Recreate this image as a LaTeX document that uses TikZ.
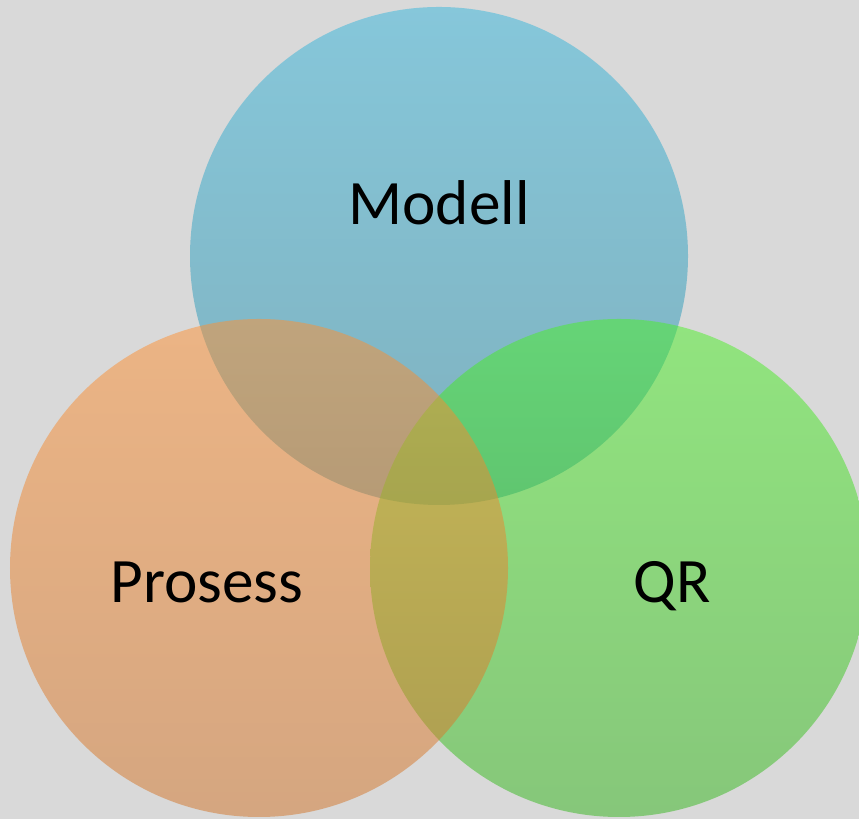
\documentclass[tikz,border=0pt]{standalone}
\usepackage{fontspec}
\setmainfont{Carlito}
\definecolor{bgray}{RGB}{217,217,217}
\definecolor{blueTop}{RGB}{52,182,220}
\definecolor{blueBot}{RGB}{38,138,165}
\definecolor{greenTop}{RGB}{75,240,38}
\definecolor{greenBot}{RGB}{52,182,28}
\definecolor{orangeTop}{RGB}{255,145,50}
\definecolor{orangeBot}{RGB}{210,116,40}
\tikzset{
    venn/.style={circle, minimum size=9.96cm, inner sep=0pt, fill opacity=0.5},
    label/.style={font=\fontsize{36}{40}\selectfont, anchor=base, text=black}
}
\begin{document}
\begin{tikzpicture}
    \def\r{4.98}
    \def\xm{8.78}
    \def\ym{11.26}
    \def\xp{5.18}
    \def\xq{12.38}
    \def\yb{5.02}
    % Background and frame of the picture
    \fill[bgray] (0,0) rectangle (17.18,16.38);
    \useasboundingbox (0,0) rectangle (17.18,16.38);
    \clip (0,0) rectangle (17.18,16.38);

    % Draw the three circles (blue, then green, then orange on top)
    \node[venn, top color=blueTop, bottom color=blueBot] (modell) at (\xm, \ym) {};
    \node[venn, top color=greenTop, bottom color=greenBot] (qr) at (\xq, \yb) {};
    \node[venn, top color=orangeTop, bottom color=orangeBot] (prosess) at (\xp, \yb) {};

    % Labels inside the circles
    \node[label] (modelltxt) at (\xm, 11.88) {Modell};
    \node[label] (prosesstxt) at (4.14, 4.32) {Prosess};
    \node[label] (qrtxt) at (13.44, 4.32) {QR};
\end{tikzpicture}
\end{document}
